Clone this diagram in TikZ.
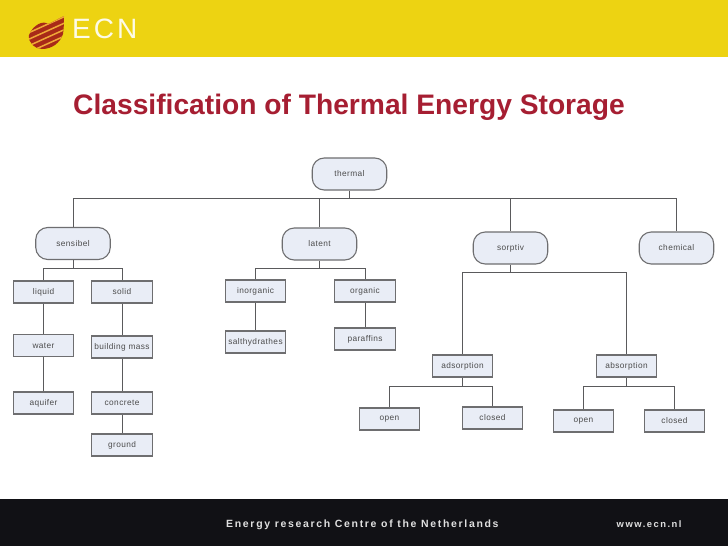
\documentclass[tikz,border=0pt]{standalone}
\usepackage{fontspec}
\setmainfont{Liberation Sans}
\newfontfamily\footfont[LetterSpace=16]{Liberation Sans}
\newfontfamily\logofont[LetterSpace=11]{Liberation Sans}
\newfontfamily\boxfont[LetterSpace=5]{Liberation Sans}
\definecolor{band}{HTML}{EDD312}
\definecolor{titlered}{HTML}{A61E32}
\definecolor{boxfill}{HTML}{E9EDF6}
\definecolor{boxline}{HTML}{6E6E70}
\definecolor{wire}{HTML}{5A5A5C}
\definecolor{foot}{HTML}{111115}
\definecolor{logored}{HTML}{A82A18}
\definecolor{logostripe}{HTML}{F0A838}
\tikzset{
  every node/.style={font=\boxfont\fontsize{8.3}{10}\selectfont, text=black!70, inner sep=0pt},
  termbox/.style={draw=boxline, line width=1.1pt, fill=boxfill, minimum width=60.5pt, minimum height=22pt},
  pillbox/.style={draw=boxline, line width=1.1pt, fill=boxfill, rounded corners=12pt, minimum width=74.5pt, minimum height=32pt},
  wirestyle/.style={draw=wire, line width=1pt}
}
\begin{document}
\begin{tikzpicture}[x=1pt,y=1pt]
\useasboundingbox (0,0) rectangle (728,-546);
\fill[white] (0,0) rectangle (728,-546);
\fill[band] (0,0) rectangle (728,-57);
\fill[foot] (0,-499) rectangle (728,-546);
% logo
\begin{scope}
\clip (64,-16) .. controls (58,-19) and (53,-22) .. (48,-24) .. controls (43,-20) and (33,-25) .. (29,-35) .. controls (28,-43) and (35,-49) .. (42,-49) .. controls (52,-49) and (60,-43) .. (63,-34) .. controls (64,-28) and (64,-20) .. (64,-16) -- cycle;
\fill[logored] (25,-12) rectangle (68,-52);
\foreach \k in {0,...,4} {
  \draw[logostripe, line width=1.5pt] (26,{-34-\k*6.5}) -- (68,{-15-\k*6.5});
}
\end{scope}
\node[font=\logofont\fontsize{28}{30}\selectfont, text=white!90!band, anchor=base west] (logo) at (72,-38) {ECN};
% title
\node[font=\bfseries\fontsize{28.2}{32}\selectfont, text=titlered, anchor=base west] (title) at (73,-114) {Classification of Thermal Energy Storage};
% footer
\node[font=\footfont\bfseries\fontsize{10.5}{12}\selectfont, text=white!88!black, anchor=base west] (foottext) at (226,-527) {Energy research Centre of the Netherlands};
\node[font=\footfont\bfseries\fontsize{9.4}{12}\selectfont, text=white!88!black, anchor=base west] (footurl) at (616.5,-527) {www.ecn.nl};
% nodes
\node[pillbox] (thermal) at (349.5,-174) {thermal};
\node[pillbox] (sensibel) at (73,-243.5) {sensibel};
\node[pillbox] (latent) at (319.5,-244) {latent};
\node[pillbox] (sorptiv) at (510.5,-248) {sorptiv};
\node[pillbox] (chemical) at (676.5,-248) {chemical};
\node[termbox] (liquid) at (43.5,-292) {liquid};
\node[termbox] (solid) at (122,-292) {solid};
\node[termbox] (water) at (43.5,-345.5) {water};
\node[termbox] (building) at (122,-347) {building mass};
\node[termbox] (aquifer) at (43.5,-403) {aquifer};
\node[termbox] (concrete) at (122,-403) {concrete};
\node[termbox] (ground) at (122,-445) {ground};
\node[termbox] (inorganic) at (255.5,-291) {inorganic};
\node[termbox] (organic) at (365,-291) {organic};
\node[termbox] (salt) at (255.5,-342) {salthydrathes};
\node[termbox] (paraffins) at (365,-339) {paraffins};
\node[termbox] (adsorption) at (462.5,-366) {adsorption};
\node[termbox] (absorption) at (626.5,-366) {absorption};
\node[termbox] (open1) at (389.5,-419) {open};
\node[termbox] (closed1) at (492.5,-418) {closed};
\node[termbox] (open2) at (583.5,-421) {open};
\node[termbox] (closed2) at (674.5,-421) {closed};
\coordinate (b0) at (349.5,-198);
\coordinate (b1) at (73,-268);
\coordinate (b2) at (319.5,-268);
\coordinate (b3) at (510.5,-272);
\coordinate (b4) at (462.5,-386);
\coordinate (b5) at (626.5,-386);
\draw[wirestyle] (thermal.south) -- (b0);
\draw[wirestyle] (b0) -| (sensibel.north);
\draw[wirestyle] (b0) -| (latent.north);
\draw[wirestyle] (b0) -| (sorptiv.north);
\draw[wirestyle] (b0) -| (chemical.north);
\draw[wirestyle] (sensibel.south) -- (b1);
\draw[wirestyle] (b1) -| (liquid.north);
\draw[wirestyle] (b1) -| (solid.north);
\draw[wirestyle] (liquid) -- (water);
\draw[wirestyle] (water) -- (aquifer);
\draw[wirestyle] (solid) -- (building);
\draw[wirestyle] (building) -- (concrete);
\draw[wirestyle] (concrete) -- (ground);
\draw[wirestyle] (latent.south) -- (b2);
\draw[wirestyle] (b2) -| (inorganic.north);
\draw[wirestyle] (b2) -| (organic.north);
\draw[wirestyle] (inorganic) -- (salt);
\draw[wirestyle] (organic) -- (paraffins);
\draw[wirestyle] (sorptiv.south) -- (b3);
\draw[wirestyle] (b3) -| (adsorption.north);
\draw[wirestyle] (b3) -| (absorption.north);
\draw[wirestyle] (adsorption.south) -- (b4);
\draw[wirestyle] (b4) -| (open1.north);
\draw[wirestyle] (b4) -| (closed1.north);
\draw[wirestyle] (absorption.south) -- (b5);
\draw[wirestyle] (b5) -| (open2.north);
\draw[wirestyle] (b5) -| (closed2.north);
\end{tikzpicture}
\end{document}
